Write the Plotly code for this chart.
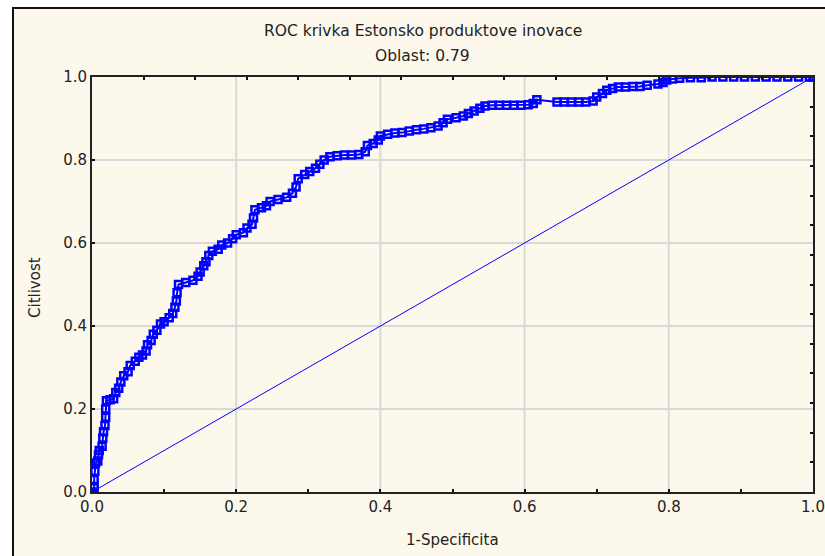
import plotly.graph_objects as go

# ROC curve points (1-Specificita, Citlivost)
fpr = [0.0, 0.003, 0.003, 0.004, 0.005, 0.008, 0.009, 0.01, 0.014, 0.015, 0.016, 0.018, 0.019, 0.019, 0.02,
       0.025, 0.03, 0.033, 0.037, 0.04, 0.044, 0.05, 0.053, 0.06, 0.065, 0.07, 0.075, 0.077, 0.082, 0.085,
       0.09, 0.095, 0.10, 0.107, 0.112, 0.115, 0.117, 0.118, 0.12, 0.13, 0.14, 0.147, 0.15, 0.155, 0.158,
       0.162, 0.167, 0.175, 0.18, 0.188, 0.195, 0.2, 0.21, 0.215, 0.222, 0.224, 0.226, 0.235, 0.242, 0.247,
       0.258, 0.27, 0.278, 0.283, 0.286, 0.295, 0.302, 0.31, 0.316, 0.322, 0.33, 0.34, 0.35, 0.36, 0.37,
       0.379, 0.382, 0.39, 0.397, 0.40, 0.41, 0.42, 0.43, 0.44, 0.45, 0.46, 0.47, 0.48, 0.487, 0.493,
       0.505, 0.515, 0.522, 0.53, 0.538, 0.545, 0.555, 0.565, 0.575, 0.585, 0.595, 0.605, 0.612, 0.617,
       0.645, 0.655, 0.665, 0.675, 0.685, 0.695, 0.70, 0.708, 0.714, 0.722, 0.73, 0.74, 0.75, 0.76, 0.77,
       0.785, 0.792, 0.797, 0.805, 0.815, 0.83, 0.845, 0.86, 0.875, 0.89, 0.905, 0.92, 0.935, 0.95, 0.965,
       0.98, 0.995, 1.0]
tpr = [0.0, 0.01, 0.03, 0.05, 0.07, 0.075, 0.09, 0.10, 0.11, 0.13, 0.145, 0.16, 0.18, 0.20, 0.22,
       0.222, 0.225, 0.24, 0.25, 0.265, 0.28, 0.29, 0.305, 0.315, 0.325, 0.33, 0.34, 0.355, 0.365, 0.38,
       0.39, 0.405, 0.41, 0.42, 0.43, 0.445, 0.46, 0.48, 0.50, 0.505, 0.51, 0.52, 0.53, 0.545, 0.555,
       0.57, 0.58, 0.585, 0.595, 0.60, 0.61, 0.62, 0.625, 0.636, 0.645, 0.66, 0.68, 0.685, 0.69, 0.70,
       0.705, 0.71, 0.72, 0.735, 0.755, 0.765, 0.772, 0.78, 0.79, 0.80, 0.808, 0.81, 0.812, 0.812, 0.813,
       0.82, 0.835, 0.84, 0.848, 0.858, 0.862, 0.865, 0.866, 0.87, 0.873, 0.875, 0.878, 0.882, 0.89, 0.898,
       0.902, 0.906, 0.912, 0.918, 0.925, 0.93, 0.932, 0.932, 0.932, 0.932, 0.932, 0.933, 0.936, 0.945,
       0.94, 0.94, 0.94, 0.94, 0.94, 0.942, 0.952, 0.96, 0.968, 0.972, 0.976, 0.976, 0.977, 0.977, 0.98,
       0.983, 0.987, 0.993, 0.995, 0.997, 0.998, 0.998, 1.0, 1.0, 1.0, 1.0, 1.0, 1.0, 1.0, 1.0,
       1.0, 1.0, 1.0]

diag_x = [0.0, 1.0]
diag_y = [0.0, 1.0]

title_line1 = "ROC krivka Estonsko produktove inovace"
title_line2 = "Oblast: 0.79"
x_title = "1-Specificita"
y_title = "Citlivost"

BLUE = "#0000FF"
FONT = "DejaVu Sans"
TXT = "#222222"
FS = 15

fig = go.Figure()
fig.add_trace(go.Scatter(x=diag_x, y=diag_y, mode="lines",
                         line=dict(color=BLUE, width=1), hoverinfo="skip", showlegend=False))
fig.add_trace(go.Scatter(x=fpr, y=tpr, mode="lines+markers",
                         line=dict(color=BLUE, width=2),
                         marker=dict(symbol="square-open", size=7, color=BLUE, line=dict(width=2.5, color=BLUE)),
                         showlegend=False))
# helper trace for top/right tick axes
fig.add_trace(go.Scatter(x=[None], y=[None], xaxis="x2", yaxis="y2", showlegend=False, hoverinfo="skip"))

W, H = 825, 556
L, R, T, B = 92, 12, 77, 64
pw, ph = W - L - R, H - T - B

def px(x):
    return (x - L) / pw

def py(y):
    return (H - B - y) / ph

tick_common = dict(ticks="inside", ticklen=3, tickwidth=2, tickcolor="#111", automargin=False,
                   showgrid=False, zeroline=False, fixedrange=True)

fig.update_layout(
    width=W, height=H,
    margin=dict(l=L, r=R, t=T, b=B, autoexpand=False),
    paper_bgcolor="white",
    plot_bgcolor="white",
    font=dict(family=FONT, size=FS, color=TXT),
    xaxis=dict(range=[0, 1], tickvals=[0, 0.1, 0.2, 0.3, 0.4, 0.5, 0.6, 0.7, 0.8, 0.9, 1.0],
               ticktext=["0.0", "", "0.2", "", "0.4", "", "0.6", "", "0.8", "", "1.0"],
               showline=True, linecolor="#222", linewidth=2, mirror=True,
               tickfont=dict(size=FS, color=TXT, family=FONT), **tick_common),
    yaxis=dict(range=[0, 1], tickvals=[0, 0.2, 0.4, 0.6, 0.8, 1.0],
               ticktext=["0.0", "0.2", "0.4", "0.6", "0.8", "1.0"],
               showline=True, linecolor="#222", linewidth=2, mirror=True,
               tickfont=dict(size=FS, color=TXT, family=FONT), **tick_common),
    xaxis2=dict(range=[0, 1], overlaying="x", side="top", anchor="y2", dtick=1/14, tick0=0,
                showticklabels=False, showline=False, **tick_common),
    yaxis2=dict(range=[0, 1], overlaying="y", side="right", anchor="x2", dtick=1/14, tick0=0,
                showticklabels=False, showline=False, **tick_common),
)

shapes = [dict(type="rect", xref="paper", yref="paper", x0=px(13), x1=px(835), y0=py(565), y1=py(8),
               fillcolor="#FDF8EC", line=dict(color="#111", width=2), layer="below")]
for v in [0.2, 0.4, 0.6, 0.8]:
    shapes.append(dict(type="line", xref="x", yref="paper", x0=v, x1=v, y0=0, y1=1,
                       line=dict(color="#D9D9D9", width=2), layer="below"))
    shapes.append(dict(type="line", xref="paper", yref="y", x0=0, x1=1, y0=v, y1=v,
                       line=dict(color="#D9D9D9", width=2), layer="below"))
fig.update_layout(shapes=shapes)

ann = [
    dict(text=title_line1, x=px(422.5), y=py(31), fs=15.5),
    dict(text=title_line2, x=px(422.5), y=py(56), fs=15.5),
    dict(text=x_title, x=px(452), y=py(540), fs=FS),
    dict(text=y_title, x=px(35), y=py(287), fs=FS, textangle=-90),
]
annotations = []
for a in ann:
    fs = a.pop("fs")
    annotations.append(dict(a, xref="paper", yref="paper", showarrow=False,
                            xanchor="center", yanchor="middle",
                            font=dict(family=FONT, size=fs, color=TXT)))
fig.update_layout(annotations=annotations)

fig.write_html("out.html")
